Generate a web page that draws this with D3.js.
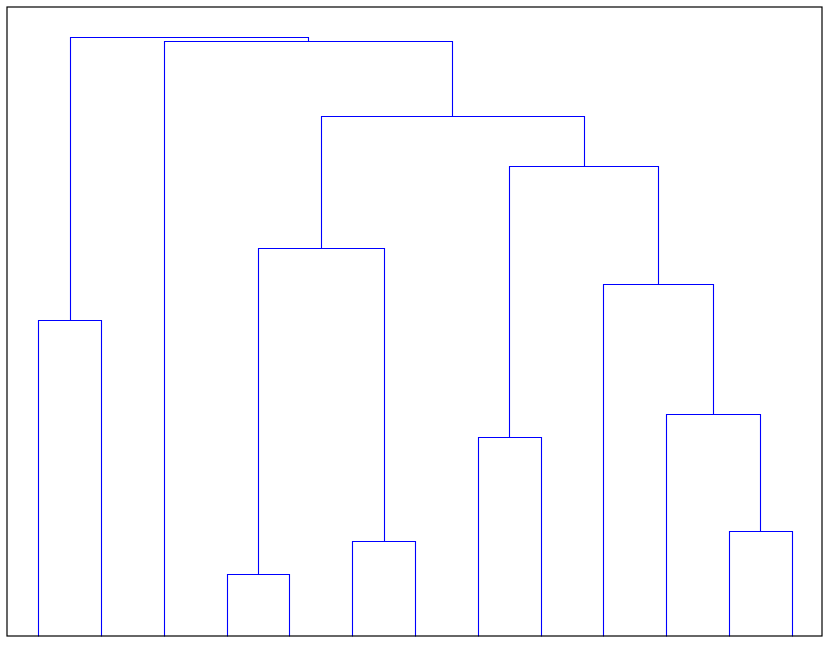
<!DOCTYPE html>
<html>
<head>
<meta charset="utf-8">
<script src="https://cdn.jsdelivr.net/npm/d3@7"></script>
<style>
  html, body { margin: 0; padding: 0; background: #fff; }
  svg { display: block; }
</style>
</head>
<body>
<div id="chart"></div>
<script>
// Leaves (display order) and linkage (left child, right child, merge height)
const leaves = ["1","2","3","4","5","6","7","8","9","10","11","12","13"];
// node ids: 0..12 leaves, 13.. clusters created in row order
const linkLeft   = [0, 3, 5, 7, 11, 10, 9, 16, 14, 21, 2, 13];
const linkRight  = [1, 4, 6, 8, 12, 17, 18, 19, 15, 20, 22, 23];
const linkHeight = [50.24, 9.86, 15.10, 31.64, 16.69, 35.29, 55.96, 74.72, 61.69, 82.67, 94.59, 95.23];
const yMax = 100;

const W = 830, H = 645;
const box = {left: 7, top: 7, right: 823, bottom: 636};

const svg = d3.select("#chart").append("svg").attr("width", W).attr("height", H);

const x = d3.scaleLinear().domain([0.5, leaves.length + 0.5]).range([box.left, box.right]);
const y = d3.scaleLinear().domain([0, yMax]).range([box.bottom, box.top]);

// positions of nodes
const nodeX = leaves.map((d, i) => i + 1);
const nodeH = leaves.map(() => 0);
const segs = [];
linkLeft.forEach((a, i) => {
  const b = linkRight[i], h = linkHeight[i];
  segs.push([nodeX[a], nodeH[a], nodeX[a], h, nodeX[b], h, nodeX[b], nodeH[b]]);
  nodeX.push((nodeX[a] + nodeX[b]) / 2);
  nodeH.push(h);
});

const px = v => Math.round(x(v)) + 0.5;
const py = v => Math.round(y(v)) + 0.5;

svg.append("g")
  .selectAll("path")
  .data(segs)
  .join("path")
  .attr("fill", "none")
  .attr("stroke", "#0000ff")
  .attr("stroke-width", 1.1)
  .attr("d", s => `M${px(s[0])},${py(s[1])}L${px(s[2])},${py(s[3])}L${px(s[4])},${py(s[5])}L${px(s[6])},${py(s[7])}`);

// axes box (no ticks)
svg.append("rect")
  .attr("x", 7).attr("y", 7)
  .attr("width", 822 - 7).attr("height", 636 - 7)
  .attr("fill", "none").attr("stroke", "#000000").attr("stroke-width", 1.2);
</script>
</body>
</html>
